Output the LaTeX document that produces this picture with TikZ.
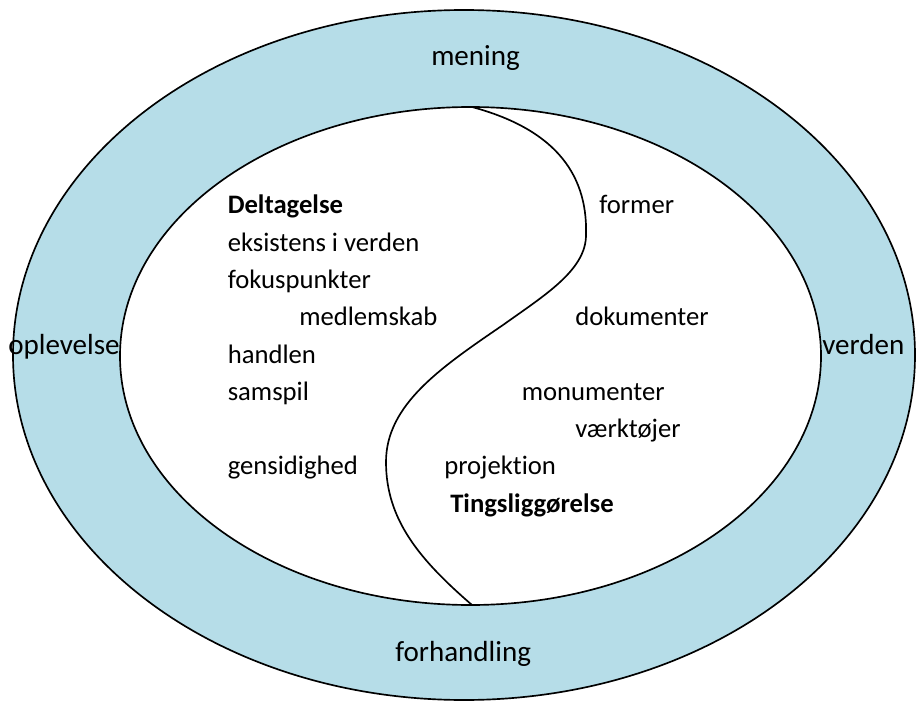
\documentclass[tikz,border=0pt]{standalone}
\usepackage{fontspec}
\setmainfont{Carlito}[Ligatures=NoCommon]
\definecolor{ringblue}{HTML}{B6DDE8}
\tikzset{
  ring/.style={draw=black, line width=1.25pt, fill=ringblue},
  core/.style={draw=black, line width=1.25pt, fill=white},
  divider/.style={draw=black, line width=1.25pt},
  inlabel/.style={anchor=base west, inner sep=0pt, font=\fontsize{20}{24}\selectfont},
  inhead/.style={inlabel, font=\fontsize{20}{24}\selectfont\bfseries},
  outlabel/.style={anchor=base west, inner sep=0pt, font=\fontsize{21.8}{26}\selectfont},
}
\begin{document}
\begin{tikzpicture}[x=0.75pt, y=-0.75pt]
\useasboundingbox (0,0) rectangle (916,702);
\fill[white] (0,0) rectangle (916,702);
% rings
\path[ring] (464,355) ellipse [x radius=338.25pt, y radius=258.75pt];
\path[core] (470.5,356) ellipse [x radius=262.875pt, y radius=186.75pt];
% dividing curve
\coordinate (ctop) at (472,107);
\coordinate (cbot) at (472,605);
\coordinate (c1) at (586,235);
\coordinate (c2) at (503,325);
\coordinate (c3) at (386,462);
\draw[divider] (ctop) .. controls (550,128) and (588,170) .. (c1)
  .. controls (586,270) and (545,295) .. (c2)
  .. controls (440,368) and (386,405) .. (c3)
  .. controls (386,520) and (420,560) .. (cbot);
% outer labels
\node[outlabel] (mening) at (431,66) {mening};
\node[outlabel] (forhandling) at (395,661) {forhandling};
\node[outlabel] (oplevelse) at (8,354) {oplevelse};
\node[outlabel] (verden) at (822,354) {verden};
% left side
\node[inhead] (deltagelse) at (227.5,214) {Deltagelse};
\node[inlabel] (eksistens) at (227.5,251.25) {eksistens i verden};
\node[inlabel] (fokus) at (227.5,288.5) {fokuspunkter};
\node[inlabel] (medlemskab) at (299,325.75) {medlemskab};
\node[inlabel] (handlen) at (227.5,363) {handlen};
\node[inlabel] (samspil) at (227.5,400.25) {samspil};
\node[inlabel] (gensidighed) at (227.5,474.75) {gensidighed};
% right side
\node[inlabel] (former) at (599,214) {former};
\node[inlabel] (dokumenter) at (575,325.75) {dokumenter};
\node[inlabel] (monumenter) at (521.5,400.25) {monumenter};
\node[inlabel] (vaerktoejer) at (575,437.5) {værktøjer};
\node[inlabel] (projektion) at (444,474.75) {projektion};
\node[inhead] (tingslig) at (450,512) {Tingsliggørelse};
\end{tikzpicture}
\end{document}
